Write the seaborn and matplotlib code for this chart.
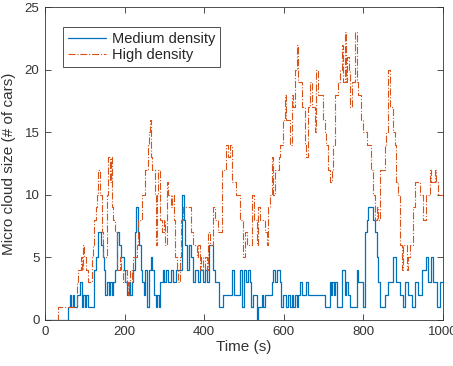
import matplotlib
matplotlib.use("Agg")
import matplotlib.pyplot as plt
import seaborn as sns
import pandas as pd

# Medium density: (time s, cars) change points
medium_t = [0, 57, 63, 66, 70, 74, 80, 88, 92, 96, 100, 103, 108, 124, 128, 132, 140, 145, 149, 152,
            156, 160, 164, 168, 172, 176, 180, 186, 192, 198, 201, 206, 210, 214, 218, 222, 226, 229, 233, 237,
            240, 244, 248, 252, 256, 262, 266, 270, 274, 278, 282, 286, 290, 296, 300, 304, 310, 316, 322, 328,
            343, 348, 352, 356, 362, 368, 372, 378, 384, 390, 396, 402, 408, 412, 422, 428, 436, 448, 470, 474,
            490, 496, 500, 506, 510, 515, 518, 523, 532, 535, 545, 548, 553, 570, 574, 578, 582, 590, 594, 598,
            606, 610, 615, 620, 624, 628, 632, 636, 640, 645, 657, 661, 674, 703, 716, 719, 722, 726, 729, 733,
            745, 753, 757, 762, 766, 783, 787, 800, 804, 808, 812, 825, 829, 833, 837, 841, 854, 862, 871, 875,
            883, 892, 900, 904, 912, 921, 929, 938, 946, 958, 963, 971, 975, 984, 992, 1000]
medium_v = [0, 1, 2, 1, 2, 1, 2, 3, 1, 2, 1, 2, 1, 4, 5, 7, 6, 5, 4, 2,
            3, 2, 3, 2, 3, 4, 7, 6, 5, 4, 3, 2, 3, 2, 3, 4, 7, 9, 7, 6,
            4, 3, 2, 4, 1, 4, 5, 4, 2, 1, 2, 1, 3, 4, 3, 4, 3, 4, 3, 4,
            10, 8, 6, 4, 6, 5, 3, 4, 3, 4, 3, 4, 3, 6, 4, 3, 1, 2, 4, 2,
            4, 1, 4, 3, 4, 3, 1, 2, 0, 1, 2, 1, 2, 3, 4, 3, 4, 3, 1, 2,
            1, 2, 1, 2, 1, 2, 1, 2, 3, 2, 3, 2, 2, 1, 3, 2, 3, 2, 3, 1,
            4, 2, 3, 2, 1, 4, 3, 1, 7, 8, 9, 8, 7, 5, 3, 1, 2, 3, 3, 5,
            3, 2, 1, 3, 2, 1, 3, 2, 4, 5, 3, 5, 3, 1, 3, 3]

# High density
high_t = [0, 32, 80, 82, 90, 93, 96, 99, 102, 107, 117, 121, 124, 127, 130, 134, 137, 142, 146, 155,
          159, 163, 166, 168, 172, 176, 180, 188, 192, 197, 201, 205, 209, 212, 214, 218, 222, 230, 234, 243,
          251, 258, 261, 264, 267, 270, 276, 279, 282, 285, 289, 293, 298, 302, 306, 310, 316, 320, 324, 327,
          331, 335, 338, 342, 346, 368, 372, 381, 385, 389, 393, 398, 402, 406, 410, 415, 423, 427, 435, 444,
          456, 461, 465, 469, 481, 490, 498, 503, 507, 520, 524, 532, 536, 540, 553, 557, 561, 566, 570, 574,
          578, 587, 591, 599, 603, 606, 616, 620, 624, 628, 632, 636, 645, 653, 657, 661, 665, 670, 678, 682,
          686, 699, 703, 707, 712, 716, 720, 724, 728, 737, 741, 745, 749, 753, 757, 760, 763, 766, 771, 779,
          783, 787, 795, 800, 808, 820, 825, 829, 833, 837, 841, 854, 858, 862, 866, 875, 879, 883, 887, 892,
          896, 900, 909, 913, 917, 925, 929, 942, 950, 958, 967, 971, 979, 983, 988, 1000]
high_v = [0, 1, 3, 4, 5, 4, 6, 5, 4, 3, 5, 6, 8, 9, 10, 12, 10, 7, 5, 10,
          13, 11, 13, 9, 8, 7, 4, 5, 4, 3, 4, 3, 2, 3, 4, 3, 5, 6, 8, 10,
          12, 14, 15, 16, 13, 12, 10, 6, 10, 12, 8, 7, 8, 6, 11, 10, 9, 10, 8, 5,
          4, 3, 5, 8, 9, 7, 6, 5, 6, 4, 5, 4, 5, 4, 7, 6, 9, 8, 7, 12,
          14, 13, 14, 11, 10, 8, 5, 7, 6, 10, 8, 6, 9, 8, 7, 6, 9, 10, 13, 10,
          12, 13, 14, 16, 18, 16, 14, 18, 17, 20, 22, 19, 17, 14, 13, 17, 19, 17, 15, 20,
          18, 16, 15, 14, 12, 11, 12, 14, 18, 19, 20, 22, 19, 23, 19, 21, 20, 17, 19, 23,
          19, 18, 16, 15, 14, 12, 10, 8, 9, 8, 12, 14, 15, 20, 17, 15, 14, 11, 10, 6,
          4, 6, 4, 5, 6, 9, 11, 10, 8, 10, 12, 11, 12, 11, 10, 10]

x_ticks = [0, 200, 400, 600, 800, 1000]
y_ticks = [0, 5, 10, 15, 20, 25]

sns.set_theme(style="ticks")
plt.rcParams["font.family"] = ["Liberation Sans", "DejaVu Sans"]

fig = plt.figure(figsize=(4.53, 3.66), dpi=100)
ax = fig.add_axes([45 / 453, 46 / 366, 398 / 453, 313 / 366])

df_med = pd.DataFrame({"t": medium_t, "v": medium_v})
df_high = pd.DataFrame({"t": high_t, "v": high_v})

sns.lineplot(data=df_med, x="t", y="v", ax=ax, estimator=None, drawstyle="steps-post",
             color="#0072BD", linewidth=0.9, label="Medium density")
sns.lineplot(data=df_high, x="t", y="v", ax=ax, estimator=None, drawstyle="steps-post",
             color="#D95319", linewidth=0.8, linestyle="-.", label="High density")

ax.set_xlim(0, 1000)
ax.set_ylim(0, 25)
ax.set_xticks(x_ticks)
ax.set_yticks(y_ticks)
ax.set_xlabel("Time (s)", fontsize=11, color="#333333", labelpad=2)
ax.set_ylabel("Micro cloud size (# of cars)", fontsize=11, color="#333333", labelpad=6)
ax.tick_params(direction="in", length=4, width=0.6, colors="#333333", labelsize=9.5,
               top=True, right=True, pad=4)
for s in ax.spines.values():
    s.set_visible(True)
    s.set_color("#333333")
    s.set_linewidth(0.6)

leg = ax.legend(loc="upper left", bbox_to_anchor=(0.045, 0.936), borderaxespad=0,
                fontsize=10.5, frameon=True, fancybox=False, framealpha=1,
                edgecolor="#333333", handlelength=2.6, borderpad=0.35,
                labelspacing=0.15, handletextpad=0.4)
leg.get_frame().set_linewidth(0.6)

fig.savefig("out.png", dpi=100)
